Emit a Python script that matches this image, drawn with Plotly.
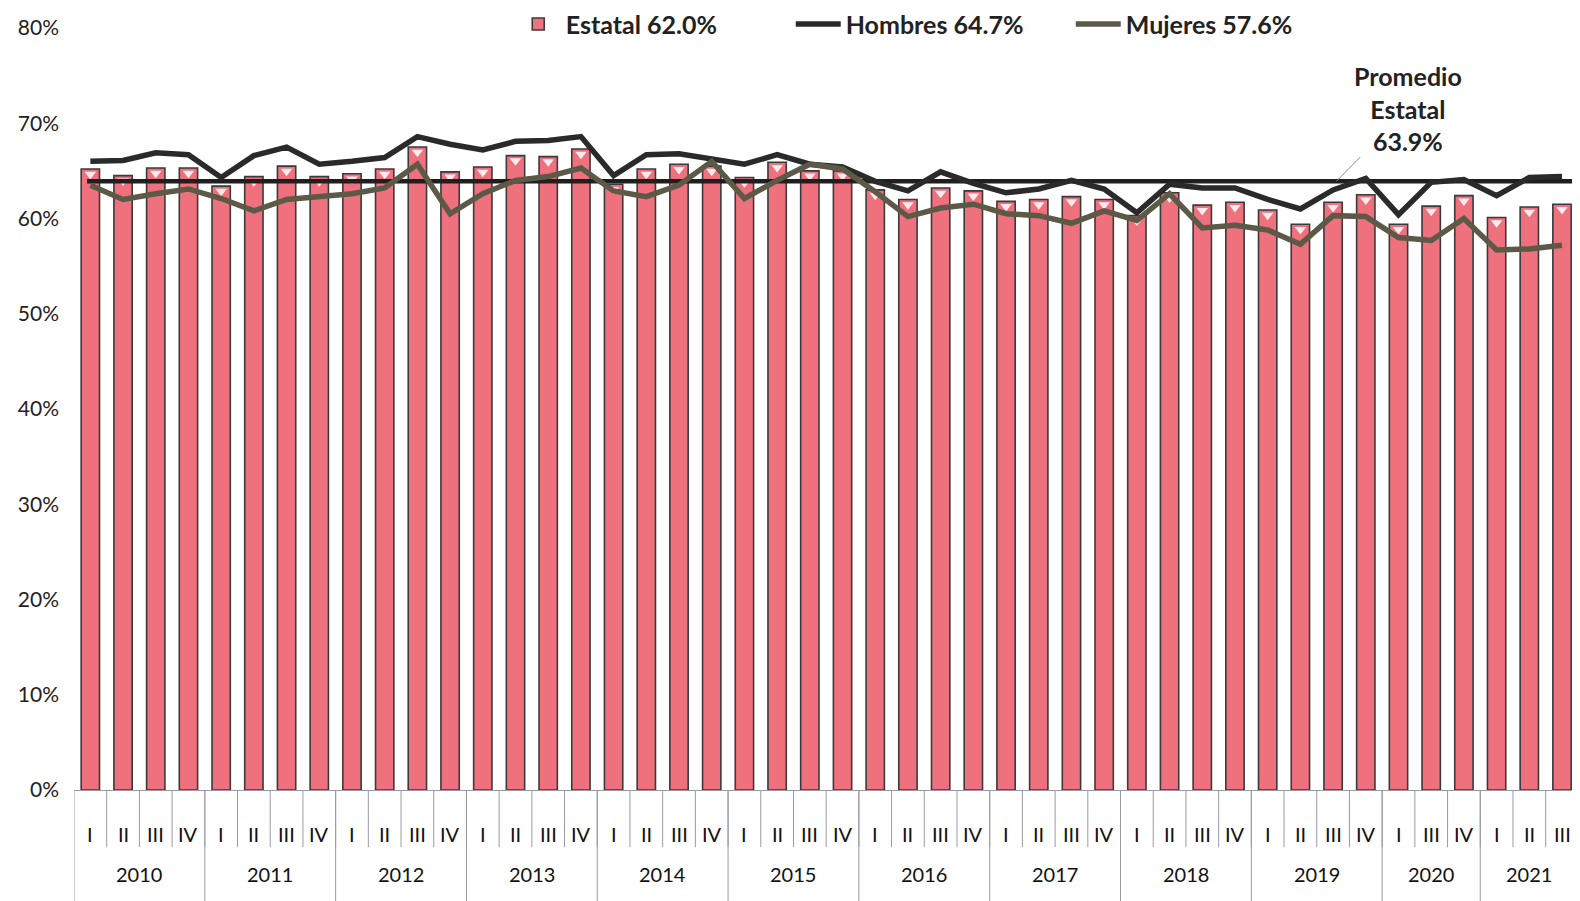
import plotly.graph_objects as go

# ---------------- data ----------------
years = ["2010", "2011", "2012", "2013", "2014", "2015", "2016", "2017", "2018", "2019", "2020", "2021"]
year_quarters = [
    ["I", "II", "III", "IV"],   # 2010
    ["I", "II", "III", "IV"],   # 2011
    ["I", "II", "III", "IV"],   # 2012
    ["I", "II", "III", "IV"],   # 2013
    ["I", "II", "III", "IV"],   # 2014
    ["I", "II", "III", "IV"],   # 2015
    ["I", "II", "III", "IV"],   # 2016
    ["I", "II", "III", "IV"],   # 2017
    ["I", "II", "III", "IV"],   # 2018
    ["I", "II", "III", "IV"],   # 2019
    ["I", "III", "IV"],         # 2020
    ["I", "II", "III"],         # 2021
]

estatal = [65.2, 64.5, 65.3, 65.3, 63.4, 64.4, 65.5, 64.4, 64.7, 65.2, 67.5, 64.9,
           65.4, 66.6, 66.5, 67.3, 63.6, 65.2, 65.7, 65.5, 64.3, 65.9, 65.0, 65.0,
           63.0, 62.0, 63.2, 62.9, 61.8, 62.0, 62.3, 62.0, 60.3, 62.7, 61.4, 61.7,
           60.9, 59.4, 61.7, 62.5, 59.4, 61.3, 62.4, 60.1, 61.2, 61.5]
hombres = [66.0, 66.1, 66.9, 66.7, 64.3, 66.6, 67.5, 65.7, 66.0, 66.4, 68.6, 67.8,
           67.2, 68.1, 68.2, 68.6, 64.5, 66.7, 66.8, 66.2, 65.7, 66.7, 65.7, 65.4,
           63.9, 62.9, 64.9, 63.7, 62.7, 63.1, 64.0, 63.1, 60.6, 63.6, 63.2, 63.2,
           62.0, 61.0, 63.0, 64.2, 60.4, 63.8, 64.1, 62.4, 64.3, 64.4]
mujeres = [63.5, 62.0, 62.6, 63.1, 62.1, 60.8, 62.0, 62.3, 62.6, 63.2, 65.7, 60.5,
           62.6, 64.0, 64.4, 65.3, 62.9, 62.3, 63.5, 66.0, 62.1, 64.0, 65.7, 65.2,
           62.8, 60.2, 61.1, 61.5, 60.5, 60.3, 59.5, 60.8, 59.8, 62.6, 59.0, 59.3,
           58.8, 57.3, 60.3, 60.2, 58.0, 57.7, 60.0, 56.7, 56.8, 57.2]
promedio_estatal = 63.9

legend_estatal = "Estatal 62.0%"
legend_hombres = "Hombres 64.7%"
legend_mujeres = "Mujeres 57.6%"
y_ticks = [0, 10, 20, 30, 40, 50, 60, 70, 80]

# ---------------- derived categories ----------------
cats, quarter_labels = [], []
for y, qs in zip(years, year_quarters):
    for q in qs:
        cats.append(f"{y} {q}")
        quarter_labels.append(q)
n = len(cats)
idx = list(range(n))

FONT = "Lato, Roboto, sans-serif"

fig = go.Figure()

fig.add_trace(go.Bar(
    x=idx, y=estatal, name=legend_estatal,
    marker=dict(color="#F0717E", line=dict(color="#3a3a3a", width=1.6)),
    width=0.56,
))
# light cap on top of each bar
fig.add_trace(go.Scatter(
    x=idx, y=[v - 0.55 for v in estatal], mode="markers", showlegend=False,
    hoverinfo="skip",
    marker=dict(symbol="triangle-down", size=10, color="rgba(255,255,255,0.85)",
                line=dict(width=0)),
))
fig.add_trace(go.Scatter(
    x=[-0.1] + idx[1:] + [n], y=[promedio_estatal] * (n + 1), mode="lines",
    showlegend=False, hoverinfo="skip",
    line=dict(color="#1f1f1f", width=4.5),
))
fig.add_trace(go.Scatter(
    x=idx, y=hombres, name=legend_hombres, mode="lines",
    line=dict(color="#2a2a2a", width=5.5),
))
fig.add_trace(go.Scatter(
    x=idx, y=mujeres, name=legend_mujeres, mode="lines",
    line=dict(color="#5c5947", width=5.5),
))

shapes = []
# quarter separators
for i in range(1, n):
    shapes.append(dict(type="line", xref="x", yref="paper", x0=i - 0.5, x1=i - 0.5,
                       y0=0, y1=-0.075, line=dict(color="#9a9aa6", width=1)))
# year separators
start = 0
bounds = [-0.5]
for qs in year_quarters:
    start += len(qs)
    bounds.append(start - 0.5)
for b in bounds:
    shapes.append(dict(type="line", xref="x", yref="paper", x0=b, x1=b,
                       y0=0, y1=-0.15, line=dict(color="#9a9aa6", width=1)))

annotations = []
# quarter labels
for i, q in enumerate(quarter_labels):
    annotations.append(dict(x=i, y=-0.058, xref="x", yref="paper", text=q,
                            yanchor="middle", showarrow=False,
                            font=dict(size=20, color="#111", family=FONT)))
# year labels
start = 0
for y, qs in zip(years, year_quarters):
    mid = start + (len(qs) - 1) / 2
    annotations.append(dict(x=mid, y=-0.11, xref="x", yref="paper", text=y,
                            yanchor="middle", showarrow=False,
                            font=dict(size=20, color="#111", family=FONT)))
    start += len(qs)

annotations.append(dict(
    x=38.1, y=promedio_estatal, xref="x", yref="y",
    ax=40.3, ay=71.6, axref="x", ayref="y",
    text="Promedio<br>Estatal<br>63.9%", showarrow=True, arrowhead=0,
    arrowwidth=1, arrowcolor="#888",
    font=dict(size=25, color="#222", family=FONT, weight="bold"),
))

# the page body adds an 8px margin, so the figure is sized to fit inside it
fig.update_layout(
    width=1572, height=893,
    margin=dict(l=66, r=0, t=20, b=111, autoexpand=False),
    paper_bgcolor="white", plot_bgcolor="white",
    bargap=0.44,
    shapes=shapes, annotations=annotations,
    legend=dict(orientation="h", x=0.29, xanchor="left", y=1.005, yanchor="middle",
                font=dict(size=25, color="#222", family=FONT, weight="bold"),
                bgcolor="rgba(0,0,0,0)", itemwidth=45, traceorder="normal",
                entrywidth=220, entrywidthmode="pixels"),
    showlegend=True,
)
fig.update_xaxes(range=[-0.5, 45.55], showticklabels=False, ticks="",
                 showgrid=False, zeroline=False, showline=True,
                 linecolor="#9a9aa6", linewidth=1, automargin=False)
fig.update_yaxes(range=[0, 80], tickvals=y_ticks, ticktext=[f"{v}%" for v in y_ticks],
                 showgrid=False, zeroline=False, showline=False, ticks="",
                 ticklabelstandoff=14, automargin=False,
                 tickfont=dict(size=21, color="#222", family=FONT))

fig.write_html("out.html")
